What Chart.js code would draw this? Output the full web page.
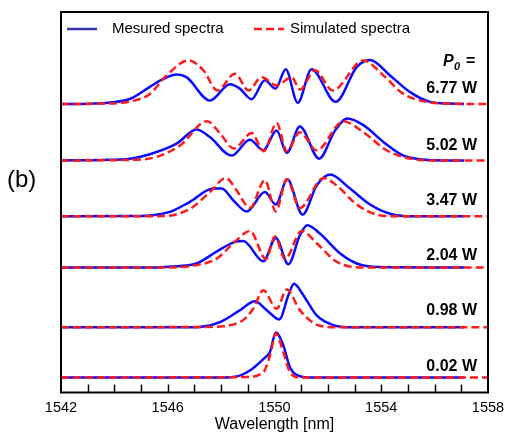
<!DOCTYPE html>
<html>
<head>
<meta charset="utf-8">
<script src="https://cdn.jsdelivr.net/npm/chart.js@4.4.0/dist/chart.umd.min.js"></script>
<style>
  body { margin: 0; background: #fff; }
  #wrap { width: 506px; height: 432px; }
</style>
</head>
<body>
<div id="wrap"><canvas id="spectra" width="506" height="432"></canvas></div>
<script>
// x-axis labelled ticks (nm)
const labelTicks = [1542, 1546, 1550, 1554, 1558];

// pump powers, top to bottom, and the vertical offset of each trace
const powers = ['6.77 W', '5.02 W', '3.47 W', '2.04 W', '0.98 W', '0.02 W'];
const offsets = [6.55, 5.27, 4.0, 2.84, 1.48, 0.34];

const measX_677 = [1542, 1543.5, 1544.6, 1545.33, 1545.83, 1546.33, 1546.7, 1547.58, 1548.33, 1548.7, 1549.14, 1549.64, 1550.04, 1550.42, 1550.87, 1551.39, 1552.29, 1553.08, 1553.58, 1554.33, 1555.08, 1555.83, 1556.6, 1557.1];
const measY_677 = [0, 0.02, 0.12, 0.39, 0.57, 0.67, 0.61, 0.08, 0.45, 0.35, 0.11, 0.54, 0.35, 0.79, 0.03, 0.79, 0.05, 0.84, 1.0, 0.65, 0.27, 0.05, 0.01, 0];
const measX_502 = [1542, 1543.5, 1544.59, 1545.33, 1546.33, 1547.08, 1547.58, 1548.39, 1549.08, 1549.58, 1550.08, 1550.46, 1550.95, 1551.67, 1552.27, 1552.73, 1553.33, 1554.08, 1554.83, 1555.58, 1556.4, 1557.1];
const measY_502 = [0, 0.01, 0.04, 0.14, 0.38, 0.70, 0.53, 0.11, 0.47, 0.23, 0.68, 0.17, 0.77, 0.04, 0.68, 0.95, 0.80, 0.42, 0.11, 0.02, 0, 0];
const measX_347 = [1542, 1544.5, 1545.33, 1546.08, 1546.83, 1547.71, 1548.02, 1548.46, 1548.96, 1549.64, 1550.05, 1550.48, 1551.05, 1551.58, 1552.08, 1552.83, 1553.58, 1554.33, 1555.2, 1557.1];
const measY_347 = [0, 0.005, 0.02, 0.10, 0.33, 0.63, 0.63, 0.36, 0.11, 0.55, 0.27, 0.84, 0.04, 0.70, 0.95, 0.63, 0.27, 0.06, 0, 0];
const measX_204 = [1542, 1545.5, 1546.08, 1547.08, 1547.83, 1548.52, 1548.83, 1549.58, 1550.05, 1550.52, 1550.95, 1551.23, 1551.7, 1552.45, 1553.08, 1553.9, 1557.1];
const measY_204 = [0, 0, 0.02, 0.09, 0.36, 0.58, 0.60, 0.14, 0.67, 0.07, 0.73, 0.96, 0.77, 0.32, 0.09, 0.01, 0];
const measX_098 = [1542, 1546.6, 1547.2, 1547.96, 1548.71, 1549.27, 1549.71, 1550.18, 1550.52, 1550.73, 1551.08, 1551.58, 1552.2, 1552.9, 1557.1];
const measY_098 = [0, 0, 0.01, 0.12, 0.39, 0.59, 0.39, 0.18, 0.73, 0.99, 0.73, 0.27, 0.05, 0, 0];
const measX_002 = [1542, 1548.0, 1548.46, 1549.08, 1549.58, 1549.83, 1550.05, 1550.33, 1550.58, 1550.95, 1551.4, 1557.1];
const measY_002 = [0, 0, 0.01, 0.16, 0.42, 0.58, 1.02, 0.73, 0.23, 0.03, 0, 0];

// simulated spectra (normalised)
const simX_677 = [1542, 1543.5, 1544.6, 1545.33, 1545.96, 1546.77, 1547.33, 1547.86, 1548.52, 1549.02, 1549.52, 1550.08, 1550.64, 1550.95, 1551.52, 1552.18, 1553.33, 1554.08, 1554.83, 1555.7, 1556.6, 1558];
const simY_677 = [0, 0.01, 0.06, 0.23, 0.65, 0.99, 0.77, 0.31, 0.69, 0.31, 0.61, 0.42, 0.61, 0.33, 0.77, 0.31, 0.99, 0.65, 0.23, 0.05, 0.01, 0];
const simX_502 = [1542, 1544.5, 1545.58, 1546.46, 1547.48, 1547.96, 1548.48, 1549.14, 1549.6, 1550.08, 1550.46, 1550.95, 1551.58, 1552.58, 1553.33, 1554.2, 1555.08, 1556, 1558];
const simY_502 = [0, 0.01, 0.08, 0.34, 0.89, 0.61, 0.27, 0.62, 0.21, 0.85, 0.21, 0.64, 0.23, 0.89, 0.64, 0.23, 0.04, 0, 0];
const simX_347 = [1542, 1545.8, 1546.83, 1547.58, 1548.18, 1548.58, 1549.08, 1549.64, 1550.05, 1550.46, 1550.95, 1551.83, 1552.33, 1553.08, 1553.83, 1554.6, 1558];
const simY_347 = [0, 0.005, 0.17, 0.55, 0.87, 0.59, 0.19, 0.82, 0.11, 0.84, 0.19, 0.87, 0.70, 0.27, 0.04, 0, 0];
const simX_204 = [1542, 1546.0, 1546.83, 1547.83, 1548.58, 1549.08, 1549.68, 1550.02, 1550.39, 1551.02, 1551.58, 1552.33, 1553.2, 1558];
const simY_204 = [0, 0, 0.03, 0.20, 0.62, 0.83, 0.19, 0.70, 0.19, 0.83, 0.55, 0.13, 0, 0];
const simX_098 = [1542, 1547.5, 1548.71, 1549.2, 1549.58, 1550.08, 1550.46, 1550.95, 1551.58, 1552.3, 1558];
const simY_098 = [0, 0.01, 0.12, 0.42, 0.84, 0.42, 0.86, 0.39, 0.06, 0, 0];
const simX_002 = [1542, 1548.9, 1549.58, 1549.83, 1550.05, 1550.33, 1550.58, 1550.95, 1558];
const simY_002 = [0, 0.01, 0.12, 0.50, 1.0, 0.58, 0.12, 0, 0];

const measured = [[measX_677, measY_677], [measX_502, measY_502], [measX_347, measY_347], [measX_204, measY_204], [measX_098, measY_098], [measX_002, measY_002]];
const simulated = [[simX_677, simY_677], [simX_502, simY_502], [simX_347, simY_347], [simX_204, simY_204], [simX_098, simY_098], [simX_002, simY_002]];

const BLUE = '#0a0aff';
const RED = '#ff1a1a';

function toPoints(xs, ys, off) {
    return xs.map((x, i) => ({ x: x, y: ys[i] + off }));
}

const datasets = [];
measured.forEach(([xs, ys], i) => {
    datasets.push({
        label: 'Mesured spectra', data: toPoints(xs, ys, offsets[i]),
        borderColor: BLUE, borderWidth: 2.5, pointRadius: 0,
        cubicInterpolationMode: 'monotone', order: 1
    });
});
simulated.forEach(([xs, ys], i) => {
    datasets.push({
        label: 'Simulated spectra', data: toPoints(xs, ys, offsets[i]),
        borderColor: RED, borderWidth: 2.5, borderDash: [8, 4], pointRadius: 0,
        cubicInterpolationMode: 'monotone', order: 0
    });
});

// box, inward ticks, legend and side labels
const decorations = {
    id: 'decorations',
    afterDraw(chart) {
        const ctx = chart.ctx;
        const a = chart.chartArea;
        const xs = chart.scales.x, ys = chart.scales.y;
        ctx.save();
        ctx.strokeStyle = '#000';
        ctx.lineWidth = 1.5;
        xs.ticks.forEach(t => {
            if (t.value <= 1542 || t.value >= 1558) return;
            const px = Math.round(xs.getPixelForValue(t.value)) + 0.5;
            ctx.beginPath();
            ctx.moveTo(px, a.bottom);
            ctx.lineTo(px, a.bottom - 8);
            ctx.stroke();
        });
        ctx.lineWidth = 2;
        ctx.strokeRect(a.left, a.top, a.right - a.left, a.bottom - a.top);

        // legend inside the box
        ctx.lineWidth = 2.5;
        ctx.strokeStyle = '#3535a5';
        ctx.beginPath(); ctx.moveTo(67, 29); ctx.lineTo(97, 29); ctx.stroke();
        ctx.strokeStyle = RED;
        ctx.setLineDash([8, 4]);
        ctx.beginPath(); ctx.moveTo(254, 29); ctx.lineTo(284, 29); ctx.stroke();
        ctx.setLineDash([]);
        ctx.fillStyle = '#000';
        ctx.textBaseline = 'middle';
        ctx.font = '15px "Liberation Sans", Arial, sans-serif';
        ctx.fillText('Mesured spectra', 112, 29);
        ctx.fillText('Simulated spectra', 290, 29);

        // P0 = and power labels
        ctx.font = 'italic bold 16px "Liberation Sans", Arial, sans-serif';
        ctx.fillText('P', 443, 62);
        ctx.font = 'italic bold 11px "Liberation Sans", Arial, sans-serif';
        ctx.fillText('0', 454, 67);
        ctx.font = 'bold 16px "Liberation Sans", Arial, sans-serif';
        ctx.fillText('=', 466, 62);
        ctx.textAlign = 'right';
        const lift = [15, 15, 16, 12, 17, 11];
        powers.forEach((p, i) => {
            ctx.fillText(p, 477, ys.getPixelForValue(offsets[i]) - lift[i]);
        });

        ctx.textAlign = 'left';
        ctx.font = '24px "Liberation Sans", Arial, sans-serif';
        ctx.fillText('(b)', 7, 180);
        ctx.restore();
    }
};

new Chart(document.getElementById('spectra'), {
    type: 'line',
    data: { datasets: datasets },
    options: {
        responsive: false,
        animation: false,
        layout: { padding: { left: 61, right: 18, top: 12, bottom: 0 } },
        plugins: { legend: { display: false }, tooltip: { enabled: false } },
        scales: {
            x: {
                type: 'linear', min: 1542, max: 1558,
                grid: { display: false, drawTicks: false },
                border: { display: false },
                afterFit: scale => { scale.paddingLeft = 0; scale.paddingRight = 0; },
                ticks: {
                    stepSize: 1, autoSkip: false, maxRotation: 0, padding: 8,
                    color: '#000',
                    font: { family: '"Liberation Sans", Arial, sans-serif', size: 14.5, lineHeight: 1 },
                    callback: v => labelTicks.includes(v) ? String(v) : ''
                },
                title: {
                    display: true, text: 'Wavelength [nm]', color: '#000',
                    font: { family: '"Liberation Sans", Arial, sans-serif', size: 16, lineHeight: 1 },
                    padding: { top: -6, bottom: -1 }
                }
            },
            y: { display: false, min: 0, max: 8.64 }
        }
    },
    plugins: [decorations]
});
</script>
</body>
</html>
